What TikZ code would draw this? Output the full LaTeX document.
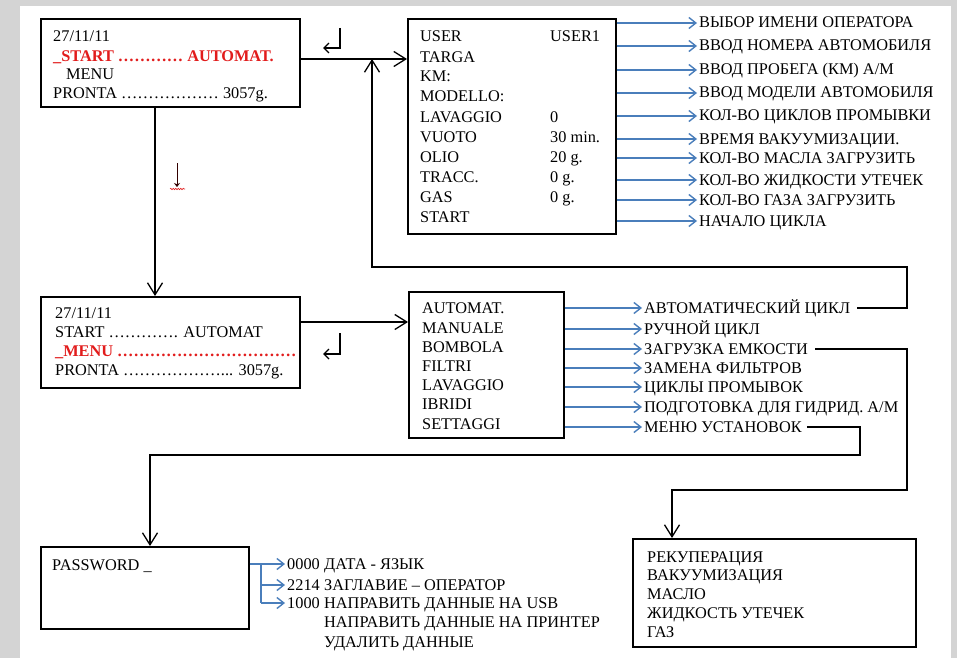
\documentclass[tikz,border=0pt]{standalone}
\usepackage{fontspec}
\setmainfont{Liberation Serif}
\usetikzlibrary{arrows.meta,decorations.pathmorphing}
\definecolor{pagegray}{RGB}{212,212,212}
\definecolor{menured}{RGB}{226,28,28}
\definecolor{linkblue}{RGB}{74,126,187}
\tikzset{
  box/.style={draw, line width=1.6pt, anchor=north west, inner sep=0pt},
  txt/.style={anchor=west, inner xsep=2pt, inner ysep=0pt, text height=12pt, text depth=2pt},
  sel/.style={txt, text=menured},
  conn/.style={line width=1.3pt, -{Straight Barb[length=12pt,width=15pt]}},
  bline/.style={linkblue, line width=1.4pt},
  barrow/.style={bline, -{Straight Barb[length=7pt,width=11pt]}},
  ret/.style={line width=1.4pt, -{Straight Barb[length=5pt,width=10pt]}}
}
\begin{document}
\begin{tikzpicture}[x=1pt,y=-1pt,every node/.style={font=\fontsize{16.3}{19}\selectfont}]
\useasboundingbox (0,0) rectangle (957,658);
\fill[pagegray] (0,0) rectangle (957,658);
\fill[white] (20,6) rectangle (951,658);

\node[box, minimum width=259pt, minimum height=88pt] (b1) at (40,18) {};
\node[box, minimum width=208pt, minimum height=215pt] (b2) at (407,18) {};
\node[box, minimum width=259pt, minimum height=91pt] (b3) at (40,296) {};
\node[box, minimum width=155pt, minimum height=146pt] (b4) at (408,291) {};
\node[box, minimum width=208pt, minimum height=82pt] (b5) at (40,546) {};
\node[box, minimum width=283pt, minimum height=108pt] (b6) at (632,538) {};

\node[txt] (h1) at (51,37) {27/11/11};
\node[sel] (h2) at (51,57) {\textbf{\_START ………… AUTOMAT.}};
\node[txt] (h3) at (64,75) {MENU};
\node[txt] (h4) at (51,94) {PRONTA ……………… 3057g.};

\node[txt] (user) at (418,37) {USER};
\node[txt] (userv) at (548,37) {USER1};
\node[txt] (targa) at (418,58) {TARGA};
\node[txt] (km) at (418,77) {KM:};
\node[txt] (modello) at (418,97) {MODELLO:};
\node[txt] (lav) at (418,117) {LAVAGGIO};
\node[txt] (lavv) at (548,117) {0};
\node[txt] (vuoto) at (418,137) {VUOTO};
\node[txt] (vuotov) at (548,137) {30 min.};
\node[txt] (olio) at (418,157) {OLIO};
\node[txt] (oliov) at (548,157) {20 g.};
\node[txt] (tracc) at (418,177) {TRACC.};
\node[txt] (traccv) at (548,177) {0 g.};
\node[txt] (gas) at (418,197) {GAS};
\node[txt] (gasv) at (548,197) {0 g.};
\node[txt] (start) at (418,217) {START};

\node[txt] (u1) at (697,23) {ВЫБОР ИМЕНИ ОПЕРАТОРА};
\node[txt] (u2) at (697,46) {ВВОД НОМЕРА АВТОМОБИЛЯ};
\node[txt] (u3) at (697,70) {ВВОД ПРОБЕГА (КМ) А/М};
\node[txt] (u4) at (697,93) {ВВОД МОДЕЛИ АВТОМОБИЛЯ};
\node[txt] (u5) at (697,116) {КОЛ-ВО ЦИКЛОВ ПРОМЫВКИ};
\node[txt] (u6) at (697,139) {ВРЕМЯ ВАКУУМИЗАЦИИ.};
\node[txt] (u7) at (697,158) {КОЛ-ВО МАСЛА ЗАГРУЗИТЬ};
\node[txt] (u8) at (697,180) {КОЛ-ВО ЖИДКОСТИ УТЕЧЕК};
\node[txt] (u9) at (697,200) {КОЛ-ВО ГАЗА ЗАГРУЗИТЬ};
\node[txt] (u10) at (697,221) {НАЧАЛО ЦИКЛА};

\draw[barrow] (b2.east |- u1.west) -- (u1.west);
\draw[barrow] (b2.east |- u2.west) -- (u2.west);
\draw[barrow] (b2.east |- u3.west) -- (u3.west);
\draw[barrow] (b2.east |- u4.west) -- (u4.west);
\draw[barrow] (b2.east |- u5.west) -- (u5.west);
\draw[barrow] (b2.east |- u6.west) -- (u6.west);
\draw[barrow] (b2.east |- u7.west) -- (u7.west);
\draw[barrow] (b2.east |- u8.west) -- (u8.west);
\draw[barrow] (b2.east |- u9.west) -- (u9.west);
\draw[barrow] (b2.east |- u10.west) -- (u10.west);

\node[txt] (g1) at (53,313) {27/11/11};
\node[txt] (g2) at (53,332) {START …………. AUTOMAT};
\node[sel] (g3) at (53,351) {\textbf{\_MENU ……………………………}};
\node[txt] (g4) at (53,370) {PRONTA ………………... 3057g.};

\node[txt] (a1) at (420,308) {AUTOMAT.};
\node[txt] (a2) at (420,328) {MANUALE};
\node[txt] (a3) at (420,347) {BOMBOLA};
\node[txt] (a4) at (420,366) {FILTRI};
\node[txt] (a5) at (420,385) {LAVAGGIO};
\node[txt] (a6) at (420,404) {IBRIDI};
\node[txt] (a7) at (420,424) {SETTAGGI};

\node[txt] (m1) at (642,308) {АВТОМАТИЧЕСКИЙ ЦИКЛ};
\node[txt] (m2) at (642,329) {РУЧНОЙ ЦИКЛ};
\node[txt] (m3) at (642,349) {ЗАГРУЗКА ЕМКОСТИ};
\node[txt] (m4) at (642,368) {ЗАМЕНА ФИЛЬТРОВ};
\node[txt] (m5) at (642,387) {ЦИКЛЫ ПРОМЫВОК};
\node[txt] (m6) at (642,407) {ПОДГОТОВКА ДЛЯ ГИДРИД. А/М};
\node[txt] (m7) at (642,427) {МЕНЮ УСТАНОВОК};

\draw[barrow] (b4.east |- m1.west) -- (m1.west);
\draw[barrow] (b4.east |- m2.west) -- (m2.west);
\draw[barrow] (b4.east |- m3.west) -- (m3.west);
\draw[barrow] (b4.east |- m4.west) -- (m4.west);
\draw[barrow] (b4.east |- m5.west) -- (m5.west);
\draw[barrow] (b4.east |- m6.west) -- (m6.west);
\draw[barrow] (b4.east |- m7.west) -- (m7.west);

\node[txt] (pw) at (50,565) {PASSWORD \_};
\node[txt] (q1) at (285,564) {0000};
\node[txt] (q2) at (285,585) {2214};
\node[txt] (q3) at (285,603) {1000};
\node[txt] (w1) at (322,564) {ДАТА - ЯЗЫК};
\node[txt] (w2) at (322,585) {ЗАГЛАВИЕ – ОПЕРАТОР};
\node[txt] (w3) at (322,603) {НАПРАВИТЬ ДАННЫЕ НА USB};
\node[txt] (w4) at (322,622) {НАПРАВИТЬ ДАННЫЕ НА ПРИНТЕР};
\node[txt] (w5) at (322,642) {УДАЛИТЬ ДАННЫЕ};

\coordinate (k1) at (261,0);
\draw[barrow] (b5.east |- q1.west) -- (q1.west);
\draw[bline] (k1 |- q1.west) -- (k1 |- q3.west);
\draw[barrow] (k1 |- q2.west) -- (q2.west);
\draw[barrow] (k1 |- q3.west) -- (q3.west);

\node[txt] (e1) at (645,557) {РЕКУПЕРАЦИЯ};
\node[txt] (e2) at (645,575) {ВАКУУМИЗАЦИЯ};
\node[txt] (e3) at (645,594) {МАСЛО};
\node[txt] (e4) at (645,613) {ЖИДКОСТЬ УТЕЧЕК};
\node[txt] (e5) at (645,632) {ГАЗ};

\coordinate (j1) at (372,59);
\coordinate (j2) at (155,0);
\coordinate (j3) at (0,322);
\draw[conn] (b1.east |- j1) -- (b2.west |- j1);
\draw[conn] (b1.south -| j2) -- (b3.north -| j2);
\draw[conn] (b3.east |- j3) -- (b4.west |- j3);

\coordinate (c1) at (907,267);
\coordinate (c2) at (907,490);
\coordinate (c3) at (860,455);
\coordinate (j4) at (672,0);
\coordinate (j5) at (150,0);
\draw[conn] ([xshift=5pt]m1.east) -| (c1) -| (j1);
\draw[conn] ([xshift=5pt]m3.east) -| (c2) -| (b6.north -| j4);
\draw[conn] ([xshift=3pt]m7.east) -| (c3) -| (b5.north -| j5);

\draw[ret] (340,28) -- (340,48) -- (323,48);
\draw[ret] (340,333) -- (340,354) -- (323,354);
\draw[-{Stealth[length=4pt,width=6pt]}, line width=0.8pt, black!80!red] (177,163) -- (177,187);
\draw[menured, line width=0.6pt, decorate, decoration={snake,amplitude=0.7pt,segment length=2.5pt}] (170,189) -- (185,189);
\end{tikzpicture}
\end{document}
